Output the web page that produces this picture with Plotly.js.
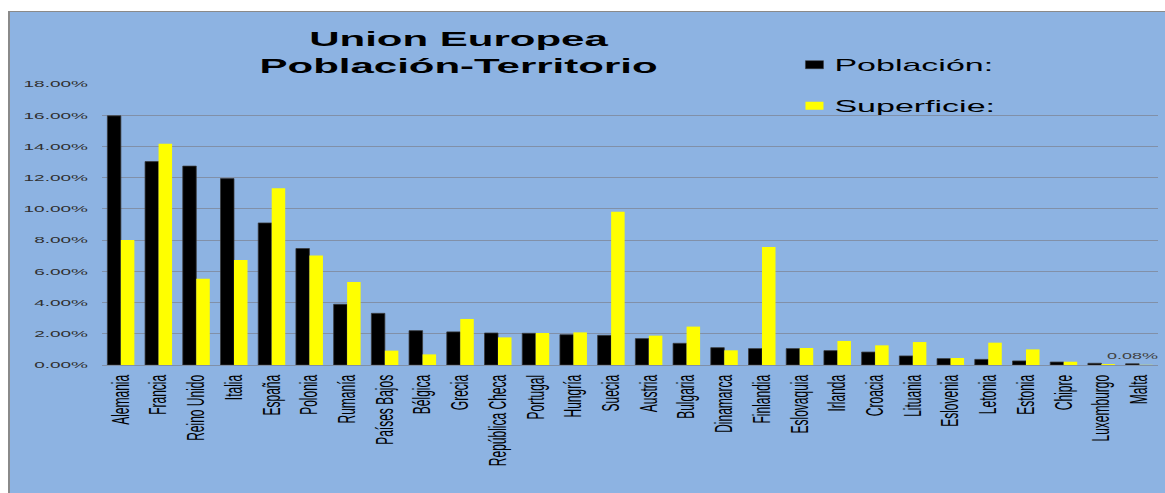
<!DOCTYPE html>
<html>
<head>
<meta charset="utf-8">
<script src="https://cdn.plot.ly/plotly-3.0.1.min.js"></script>
<style>
  html, body { margin:0; padding:0; background:#ffffff; width:1165px; height:493px; overflow:hidden; }
  #wrap { position:absolute; left:0; top:0; width:582.5px; height:493px; transform:scaleX(2); transform-origin:0 0; }
  #chart { position:absolute; left:3.5px; top:11px; width:578px; height:481px; border-left:1px solid #8a8a8a; border-top:1px solid #8a8a8a; }
  #chart .legend .legendpoints path { transform: translate(30px, 0px) scale(0.75, 0.67); }
</style>
</head>
<body>
<div id="wrap"><div id="chart"></div></div>
<script>
const paises = ['Alemania','Francia','Reino Unido','Italia','España','Polonia','Rumanía','Países Bajos','Bélgica','Grecia','República Checa','Portugal','Hungría','Suecia','Austria','Bulgaria','Dinamarca','Finlandia','Eslovaquia','Irlanda','Croacia','Lituania','Eslovenia','Letonia','Estonia','Chipre','Luxemburgo','Malta'];
const poblacion = [15.96,13.03,12.74,11.94,9.10,7.46,3.89,3.31,2.20,2.12,2.05,2.03,1.94,1.90,1.69,1.39,1.11,1.05,1.05,0.92,0.83,0.58,0.41,0.36,0.26,0.19,0.11,0.08];
const superficie = [8.01,14.17,5.53,6.73,11.33,7.01,5.32,0.92,0.68,2.95,1.77,2.05,2.09,9.81,1.88,2.46,0.94,7.56,1.09,1.54,1.26,1.47,0.45,1.43,1.00,0.21,0.06,0.01];
const tituloTexto = 'Union Europea<br>Población-Territorio';
const nombrePoblacion = 'Población:';
const nombreSuperficie = 'Superficie:';

const pobFrac = poblacion.map(v => v / 100);
const supFrac = superficie.map(v => v / 100);
const pobEtiquetas = poblacion.map((v, i) => i === poblacion.length - 1 ? v.toFixed(2) + '%' : '');

const traces = [
  { type:'bar', name:nombrePoblacion, x:paises, y:pobFrac, legendgroup:'a',
    marker:{color:'#000000', line:{color:'#3a3a3a', width:0.5}}, text:pobEtiquetas, textposition:'outside', cliponaxis:false,
    constraintext:'none', textangle:0,
    textfont:{family:'Liberation Sans, Arial, sans-serif', size:9, color:'#404040'} },
  { type:'bar', name:nombreSuperficie, x:paises, y:supFrac, legendgroup:'b',
    marker:{color:'#FFFF00'}, textposition:'none' }
];

const layout = {
  width:578, height:481,
  paper_bgcolor:'#8DB3E2', plot_bgcolor:'#8DB3E2',
  margin:{l:46, r:4, t:72, b:128, autoexpand:false},
  barmode:'group', bargap:0.284, bargroupgap:0,
  title:{ text:tituloTexto, x:0.388, xanchor:'center', xref:'container', y:0.93, yanchor:'top', yref:'container',
          font:{family:'Liberation Sans, Arial, sans-serif', size:21, color:'#000000', weight:'bold'} },
  showlegend:true,
  legend:{ x:0.644, xref:'container', xanchor:'left', y:0.927, yref:'container', yanchor:'top',
           traceorder:'grouped', tracegroupgap:16, bgcolor:'rgba(0,0,0,0)',
           font:{family:'Liberation Sans, Arial, sans-serif', size:17, color:'#000000'} },
  xaxis:{ type:'category', tickmode:'array', tickvals:paises, ticktext:paises, tickangle:-90,
          showgrid:false, showline:true, linecolor:'#8090a8', linewidth:1,
          ticks:'', ticklabelstandoff:4,
          tickfont:{family:'Liberation Sans, Arial, sans-serif', size:12, color:'#000000'} },
  yaxis:{ range:[0,0.18], dtick:0.02, tickformat:'.2%', showgrid:true, gridcolor:'#8190a8', gridwidth:1,
          zeroline:true, zerolinecolor:'#8190a8', zerolinewidth:1, showline:false, ticks:'', ticklabelstandoff:6,
          tickfont:{family:'Liberation Sans, Arial, sans-serif', size:9.5, color:'#303030'} },
  font:{family:'Liberation Sans, Arial, sans-serif'}
};

Plotly.newPlot('chart', traces, layout, {displayModeBar:false, staticPlot:true});
</script>
</body>
</html>
